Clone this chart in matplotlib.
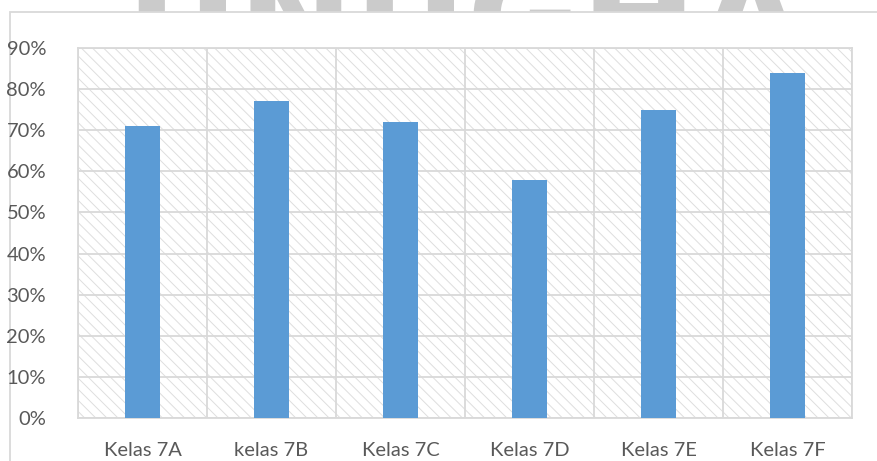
import matplotlib
matplotlib.use('Agg')
from matplotlib import pyplot as plt
from matplotlib.patches import Rectangle
import numpy as np

# data
kelas = ['Kelas 7A', 'kelas 7B', 'Kelas 7C', 'Kelas 7D', 'Kelas 7E', 'Kelas 7F']
nilai = [71, 77, 72, 58, 75, 84]
yticks = [0, 10, 20, 30, 40, 50, 60, 70, 80, 90]

plt.rcParams['font.family'] = ['Lato', 'DejaVu Sans']
plt.rcParams['hatch.linewidth'] = 0.7
plt.rcParams['hatch.color'] = '#dedede'

W, H = 877, 461
fig = plt.figure(figsize=(W / 100, H / 100), dpi=100)

# watermark behind the chart frame (only top slice visible)
fig.text(125 / W, 1 + 40 / H, 'UNUGHA', fontsize=100, fontweight='bold',
         family='DejaVu Sans', color='#cbcbcb', ha='left', va='top', zorder=0)

# chart frame
frame = Rectangle((10 / W, -0.1), 1.2, 1 - 12 / H + 0.1, transform=fig.transFigure,
                  facecolor='white', edgecolor='#d9d9d9', linewidth=1.3, zorder=1)
fig.patches.append(frame)

ax = fig.add_axes([78 / W, 1 - 418 / H, (852 - 78) / W, (418 - 48) / H])
ax.set_zorder(2)
ax.patch.set_facecolor('white')
ax.patch.set_hatch('\\\\\\')
ax.patch.set_edgecolor('#dedede')

x = np.arange(len(kelas))
ax.bar(x, nilai, width=0.27, color='#5b9bd5', zorder=3)

ax.set_xlim(-0.5, len(kelas) - 0.5)
ax.set_ylim(0, 90)
ax.set_yticks(yticks)
ax.set_yticklabels([f'{v}%' for v in yticks])
ax.set_xticks(x)
ax.set_xticklabels(kelas)
ax.set_xticks(np.arange(len(kelas) + 1) - 0.5, minor=True)

ax.grid(axis='y', color='#d9d9d9', linewidth=1.3, zorder=1)
ax.grid(axis='x', which='minor', color='#d9d9d9', linewidth=1.3, zorder=1)
ax.set_axisbelow(True)
ax.tick_params(axis='both', which='both', length=0, colors='#595959', labelsize=14.5)
ax.tick_params(axis='y', pad=23)
ax.tick_params(axis='x', pad=17)
for s in ax.spines.values():
    s.set_color('#d9d9d9')
    s.set_linewidth(1.3)

fig.savefig('out.png', dpi=100)
